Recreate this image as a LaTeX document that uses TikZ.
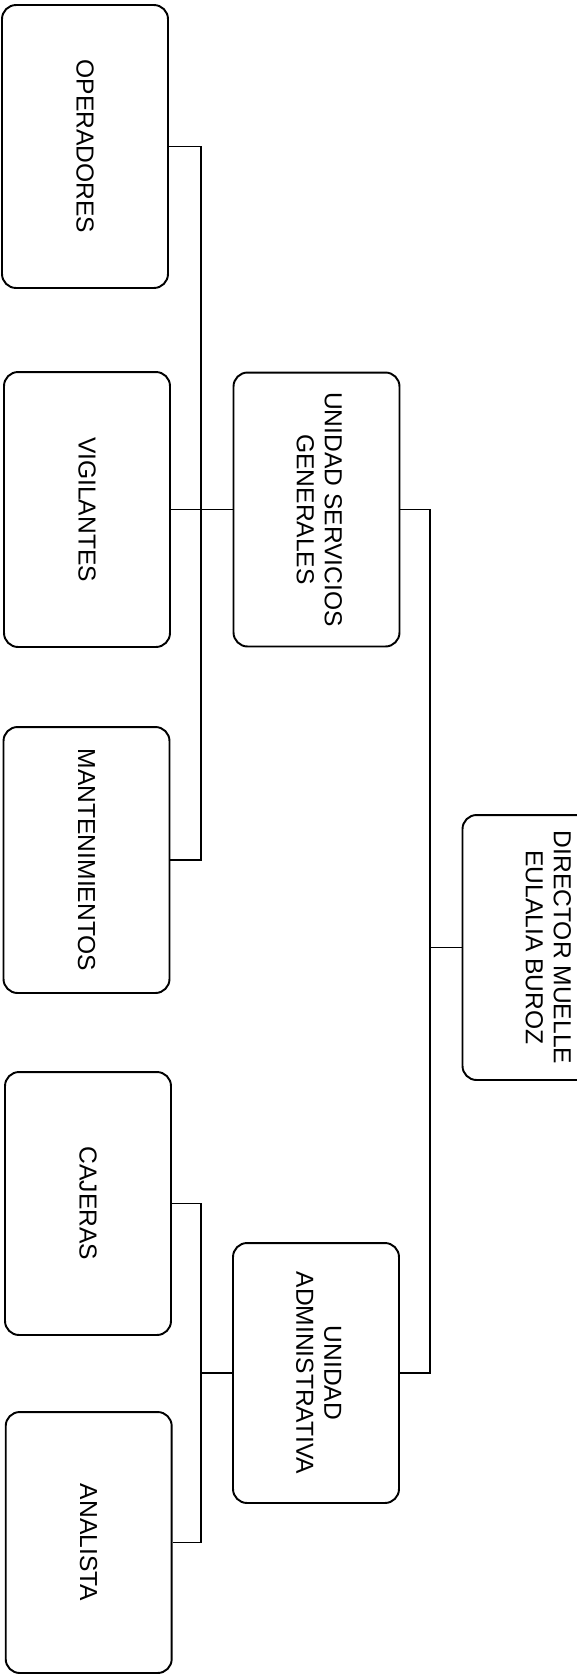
\documentclass[tikz,border=0pt]{standalone}
\usepackage{fontspec}
\setmainfont{Liberation Sans}
\usepackage{tikz}
\usetikzlibrary{positioning, calc}

\begin{document}
\begin{tikzpicture}[x=0.02cm, y=-0.02cm, line width=1.1pt,
    cargo/.style={draw, rounded corners=0.28cm, minimum width=3.32cm, inner sep=2pt,
        font=\fontsize{14}{16}\selectfont}]
\useasboundingbox (0,0) rectangle (577,1674);
\clip (0,0) rectangle (577,1674);
\begin{scope}
    \node[cargo, minimum height=5.66cm] (oper) at (85,146.5) {\rotatebox{-90}{OPERADORES}};
    \node[cargo, minimum height=5.5cm] (vig) at (87,509.5) {\rotatebox{-90}{VIGILANTES}};
    \node[cargo, minimum height=5.32cm] (mant) at (86.5,860) {\rotatebox{-90}{MANTENIMIENTOS}};
    \node[cargo, minimum height=5.48cm] (usg) at (316.5,509.5) {\rotatebox{-90}{\begin{tabular}{@{}c@{}}UNIDAD SERVICIOS\\GENERALES\end{tabular}}};
    \coordinate (bus1) at (201,509.5);
    \draw (oper.east) -| (bus1) |- (mant.east);
    \draw (vig.east) -- (usg.west);
\end{scope}
\begin{scope}
    \node[cargo, minimum height=5.26cm] (caj) at (88,1203.5) {\rotatebox{-90}{CAJERAS}};
    \node[cargo, minimum height=5.22cm] (anal) at (88.7,1542.5) {\rotatebox{-90}{ANALISTA}};
    \node[cargo, minimum height=5.2cm] (admin) at (316,1373) {\rotatebox{-90}{\begin{tabular}{@{}c@{}}UNIDAD\\ADMINISTRATIVA\end{tabular}}};
    \coordinate (bus2) at (201,1373);
    \draw (caj.east) -| (bus2) |- (anal.east);
    \draw (admin.west) -- (bus2);
\end{scope}
\begin{scope}
    \node[cargo, minimum height=5.3cm] (dir) at (545.5,947.5) {\rotatebox{-90}{\begin{tabular}{@{}c@{}}DIRECTOR MUELLE\\EULALIA BUROZ\end{tabular}}};
    \coordinate (bus3) at (430,947.5);
    \draw (usg.east) -| (bus3) |- (admin.east);
    \draw (bus3) -- (dir.west);
\end{scope}
\end{tikzpicture}
\end{document}
